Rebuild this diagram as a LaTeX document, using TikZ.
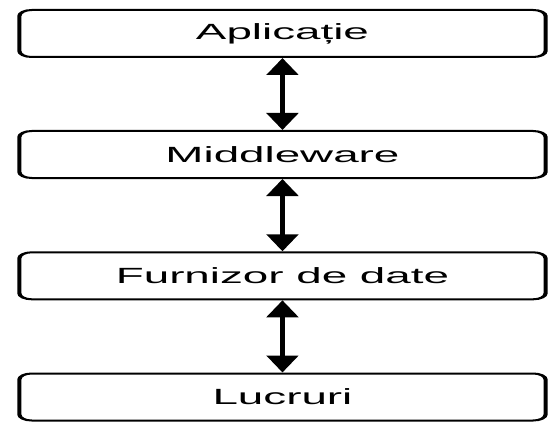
\documentclass[tikz,border=0pt]{standalone}
\usepackage{fontspec}
\setmainfont{Liberation Sans}
\usetikzlibrary{arrows.meta}
\begin{document}
\begin{tikzpicture}[x=1pt,y=-1pt,
  layer/.style={draw=black, line width=2pt, rounded corners=6pt,
    minimum width=253pt, minimum height=47pt, inner sep=0pt,
    font=\fontsize{22}{26}\selectfont},
  link/.style={line width=2.2pt,
    {Triangle[width=15pt,length=17pt]}-{Triangle[width=15pt,length=17pt]}}]
\useasboundingbox (0,0) rectangle (553,422);
% the whole stack is drawn wide: everything is stretched horizontally
\begin{scope}[transform canvas={xscale=2.08}]
  \node[layer] (app) at (135.8,33.5)  {Aplicație};
  \node[layer] (mid) at (135.8,154.5) {Middleware};
  \node[layer] (prov) at (135.8,275.8) {Furnizor de date};
  \node[layer] (things) at (135.8,397) {Lucruri};
  \draw[link] (app) -- (mid);
  \draw[link] (mid) -- (prov);
  \draw[link] (prov) -- (things);
\end{scope}
\end{tikzpicture}
\end{document}
